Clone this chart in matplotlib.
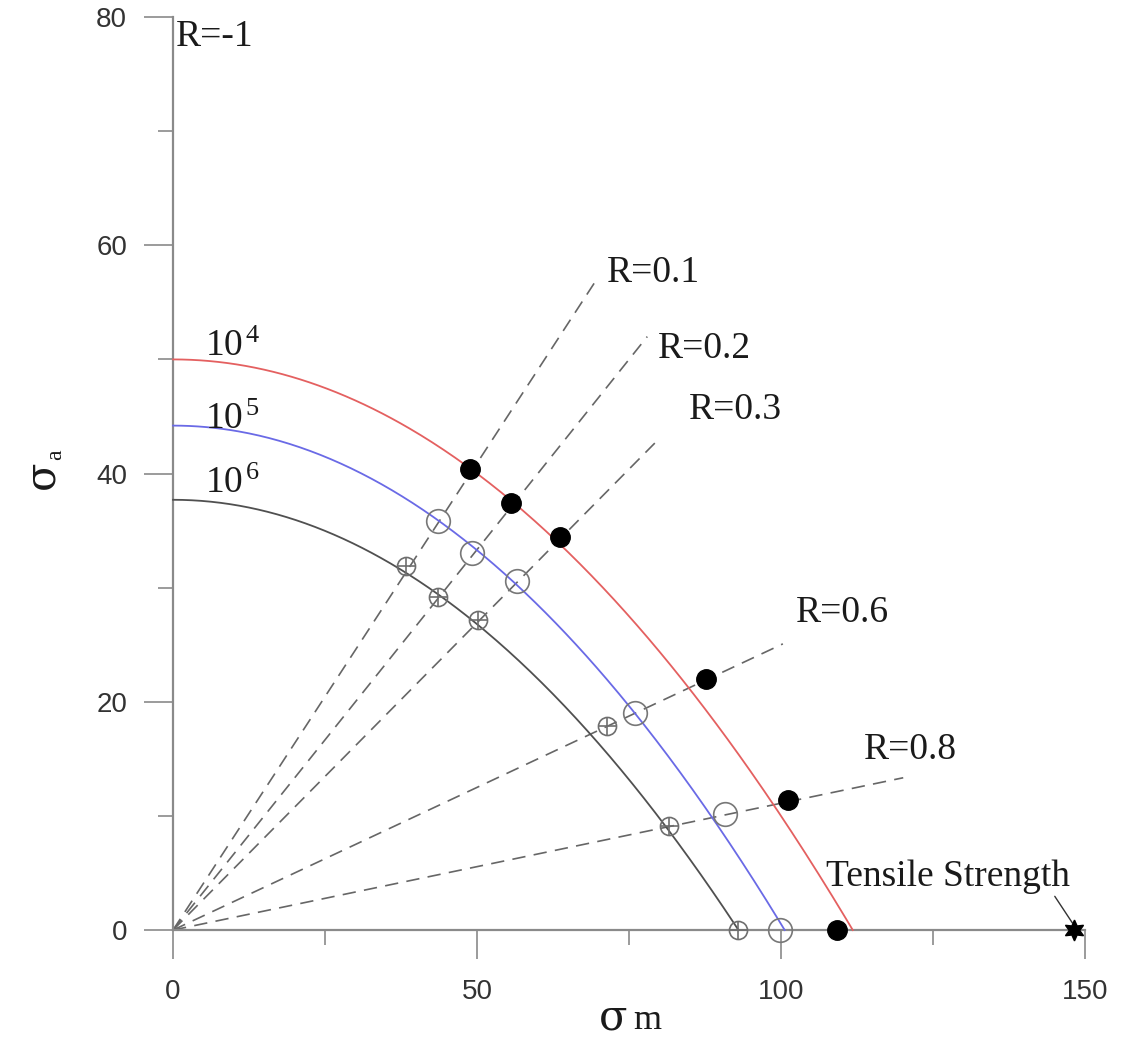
import numpy as np
import matplotlib
matplotlib.use("Agg")
import matplotlib.pyplot as plt
from matplotlib.ticker import MultipleLocator

plt.rcParams['mathtext.fontset'] = 'custom'
plt.rcParams['mathtext.rm'] = 'Liberation Serif'
plt.rcParams['mathtext.it'] = 'Liberation Serif:italic'

# Gerber curves for each life: sigma_a at sigma_m = 0 and sigma_m at sigma_a = 0
cycles = ['4', '5', '6']
amp_zero_mean = [50.0, 44.2, 37.7]
mean_zero_amp = [111.8, 100.6, 93.0]
curve_colors = ['#e46060', '#6a6ae6', '#505050']

# stress ratio rays and how far each one is drawn along sigma_m
r_values = [0.1, 0.2, 0.3, 0.6, 0.8]
r_end_m = [69.7, 78.0, 79.9, 100.3, 120.1]

# test points (sigma_m, sigma_a), order R = 0.1, 0.2, 0.3, 0.6, 0.8, 1
pts_1e4_m = [48.8, 55.6, 63.6, 87.6, 101.2, 109.2]
pts_1e4_a = [40.4, 37.4, 34.4, 22.0, 11.4, 0.0]
pts_1e5_m = [43.5, 49.2, 56.5, 75.9, 90.8, 99.9]
pts_1e5_a = [35.8, 33.0, 30.6, 19.0, 10.2, 0.0]
pts_1e6_m = [38.3, 43.5, 50.1, 71.4, 81.5, 93.0]
pts_1e6_a = [31.9, 29.2, 27.2, 17.9, 9.1, 0.0]

tensile_strength = 148.2

fig = plt.figure(figsize=(11.28, 10.45), dpi=100)
ax = fig.add_axes([0.1534, 0.1100, 0.8085, 0.8737])
ax.set_xlim(0, 150)
ax.set_ylim(0, 80)

axis_gray = '#8a8a8a'
for side in ['top', 'right']:
    ax.spines[side].set_visible(False)
for side in ['left', 'bottom']:
    ax.spines[side].set_color(axis_gray)
    ax.spines[side].set_linewidth(1.6)

ax.xaxis.set_major_locator(MultipleLocator(50))
ax.xaxis.set_minor_locator(MultipleLocator(25))
ax.yaxis.set_major_locator(MultipleLocator(20))
ax.yaxis.set_minor_locator(MultipleLocator(10))
ax.tick_params(which='major', direction='out', length=21, width=1.2, color=axis_gray,
               labelsize=20, labelcolor='#333333')
ax.tick_params(which='minor', direction='out', length=11, width=1.2, color=axis_gray)
ax.tick_params(axis='x', which='major', pad=14)
ax.tick_params(axis='y', which='major', pad=12)
for lab in ax.get_xticklabels() + ax.get_yticklabels():
    lab.set_family('Liberation Sans')

# constant R rays from the origin
for r, m_end in zip(r_values, r_end_m):
    slope = (1 - r) / (1 + r)
    ax.plot([0, m_end], [0, m_end * slope], color='#666666', lw=1.2,
            dashes=(8, 5), zorder=2, clip_on=False)

# constant life curves
for n, a0, m0, c in zip(cycles, amp_zero_mean, mean_zero_amp, curve_colors):
    sm = np.linspace(0, m0, 300)
    ax.plot(sm, a0 * (1 - (sm / m0) ** 2), color=c, lw=1.3, zorder=3, clip_on=False)

ax.plot(pts_1e4_m, pts_1e4_a, 'o', ms=14, color='black', zorder=5, clip_on=False)
ax.plot(pts_1e5_m, pts_1e5_a, 'o', ms=17, mfc='none', mec='#777777', mew=1.2,
        zorder=5, clip_on=False)
ax.plot(pts_1e6_m, pts_1e6_a, 'o', ms=13, mfc='none', mec='#6e6e6e', mew=1.2,
        zorder=5, clip_on=False)
ax.plot(pts_1e6_m, pts_1e6_a, '+', ms=13, mec='#6e6e6e', mew=1.2,
        zorder=5, clip_on=False)
ax.plot([tensile_strength], [0], marker=(6, 1, 0), ms=15, color='black',
        zorder=6, clip_on=False)

serif = dict(family='Liberation Serif', fontsize=27, color='#1a1a1a')
ax.text(0.4, 78.3, 'R=-1', ha='left', va='center', **serif)
r_label_pos = [(71.4, 57.6), (79.8, 50.9), (84.8, 45.6), (102.5, 27.8), (113.6, 15.8)]
for r, (x, y) in zip(r_values, r_label_pos):
    ax.text(x, y, f'R={r}', ha='left', va='center', **serif)

life_label_y = [50.3, 43.9, 38.3]
for n, y in zip(cycles, life_label_y):
    ax.text(5.3, y, r'$\mathrm{10}^{\,' + n + '}$', ha='left', va='baseline', **serif)

ax.annotate('Tensile Strength', xy=(tensile_strength, 0.4), xytext=(107.4, 3.9),
            ha='left', va='baseline',
            arrowprops=dict(arrowstyle='-', color='#333333', lw=1.0,
                            shrinkA=0, shrinkB=2,
                            relpos=(0.93, 0.0)),
            **serif)

# axis titles: large sigma with a smaller letter next to it
fig.text(0.531, 0.006, 'σ', ha='left', va='bottom', family='DejaVu Serif',
         fontsize=30, color='#1a1a1a')
fig.text(0.561, 0.008, 'm', ha='left', va='bottom', family='Liberation Serif',
         fontsize=26, color='#1a1a1a')
fig.text(0.018, 0.532, 'σ', ha='left', va='bottom', rotation=90,
         family='DejaVu Serif', fontsize=30, color='#1a1a1a')
fig.text(0.040, 0.560, 'a', ha='left', va='bottom', rotation=90,
         family='Liberation Serif', fontsize=17, color='#1a1a1a')

fig.savefig('out.png', dpi=100)
